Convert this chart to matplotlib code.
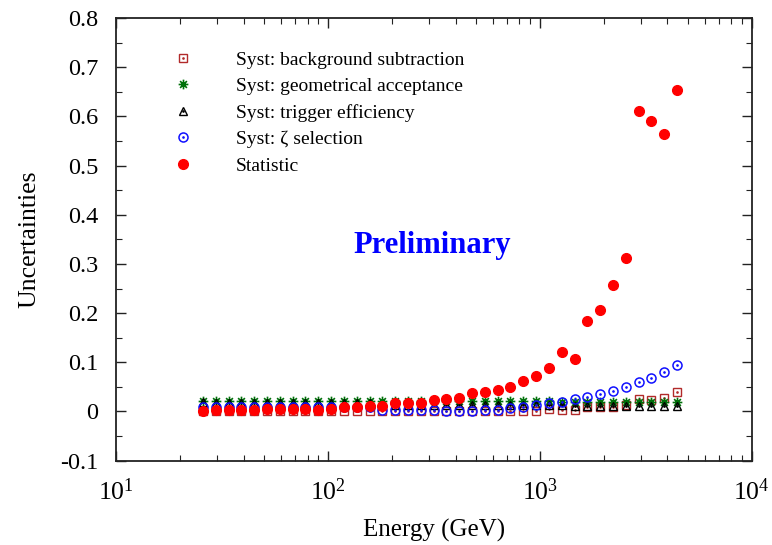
import numpy as np
import matplotlib
matplotlib.use("Agg")
import matplotlib.pyplot as plt
from matplotlib.path import Path
from matplotlib.ticker import FixedLocator, FuncFormatter, LogLocator, NullFormatter

plt.rcParams['font.family'] = ['Liberation Serif', 'DejaVu Serif']
plt.rcParams['mathtext.fontset'] = 'stix'
plt.rcParams['axes.unicode_minus'] = False

# energy bins (GeV)
energy = [25.6, 29.5, 33.9, 38.9, 44.8, 51.4, 59.2, 68.0, 78.2, 89.8,
          103.3, 118.7, 136.5, 156.9, 180.3, 207.3, 238.2, 273.8, 314.8, 361.8,
          415.9, 478.1, 549.5, 631.6, 726.1, 834.6, 959.4, 1102.8, 1267.7, 1457.2,
          1674.9, 1925.3, 2213.1, 2544.0, 2924.0, 3361.0, 3864.0, 4442.0]

syst_bkg = [0.002, 0.002, 0.002, 0.002, 0.002, 0.002, 0.002, 0.002, 0.002, 0.002,
            0.002, 0.002, 0.002, 0.002, 0.000, 0.000, 0.000, 0.000, 0.000, 0.000,
            0.000, 0.000, 0.000, 0.001, 0.002, 0.001, 0.002, 0.005, 0.004, 0.003,
            0.010, 0.010, 0.010, 0.013, 0.025, 0.024, 0.027, 0.040]

syst_geom = [0.022, 0.022, 0.022, 0.022, 0.022, 0.022, 0.022, 0.022, 0.022, 0.022,
             0.022, 0.022, 0.022, 0.022, 0.021, 0.021, 0.021, 0.021, 0.021, 0.021,
             0.021, 0.021, 0.021, 0.021, 0.021, 0.021, 0.021, 0.021, 0.020, 0.020,
             0.020, 0.020, 0.020, 0.020, 0.020, 0.020, 0.019, 0.019]

syst_trig = [0.020, 0.017, 0.017, 0.017, 0.017, 0.017, 0.017, 0.017, 0.017, 0.017,
             0.017, 0.017, 0.017, 0.017, 0.014, 0.014, 0.014, 0.014, 0.014, 0.014,
             0.014, 0.014, 0.014, 0.014, 0.014, 0.014, 0.014, 0.014, 0.013, 0.012,
             0.012, 0.012, 0.012, 0.012, 0.012, 0.012, 0.012, 0.011]

syst_zeta = [0.010, 0.010, 0.010, 0.010, 0.010, 0.010, 0.010, 0.010, 0.010, 0.010,
             0.010, 0.010, 0.010, 0.009, 0.003, 0.003, 0.003, 0.003, 0.003, 0.001,
             0.001, 0.001, 0.003, 0.003, 0.007, 0.010, 0.014, 0.017, 0.020, 0.025,
             0.030, 0.036, 0.042, 0.050, 0.059, 0.069, 0.080, 0.094]

statistic = [0.000, 0.003, 0.003, 0.003, 0.004, 0.006, 0.005, 0.005, 0.005, 0.003,
             0.005, 0.010, 0.010, 0.011, 0.011, 0.017, 0.017, 0.017, 0.023, 0.025,
             0.027, 0.038, 0.040, 0.043, 0.050, 0.063, 0.072, 0.088, 0.121, 0.107,
             0.184, 0.206, 0.257, 0.312, 0.611, 0.591, 0.564, 0.653]

# gnuplot-like asterisk: + and x on top of each other
star = Path([(-1, 0), (1, 0), (0, -1), (0, 1),
             (-0.7, -0.7), (0.7, 0.7), (-0.7, 0.7), (0.7, -0.7)],
            [Path.MOVETO, Path.LINETO] * 4)

fig = plt.figure(figsize=(7.72, 5.45), dpi=100)
ax = fig.add_axes([0.1506, 0.1547, 0.8232, 0.8123])

c_bkg = '#b22a2a'
c_geom = '#00700a'
c_blue = '#1010ff'

h1 = ax.plot(energy, syst_bkg, ls='none', marker='s', ms=5.5, mfc='none', mec=c_bkg, mew=1.0)[0]
d1 = ax.plot(energy, syst_bkg, ls='none', marker='.', ms=1.8, color=c_bkg)[0]
h2 = ax.plot(energy, syst_geom, ls='none', marker=star, ms=7.0, mfc='none', mec=c_geom, mew=1.2)[0]
h3 = ax.plot(energy, syst_trig, ls='none', marker='^', ms=5.5, mfc='none', mec='black', mew=1.0)[0]
d3 = ax.plot(energy, syst_trig, ls='none', marker='.', ms=1.8, color='black')[0]
h4 = ax.plot(energy, syst_zeta, ls='none', marker='o', ms=6.5, mfc='none', mec=c_blue, mew=1.1)[0]
d4 = ax.plot(energy, syst_zeta, ls='none', marker='.', ms=1.8, color=c_blue)[0]
h5 = ax.plot(energy, statistic, ls='none', marker='o', ms=7.0, color='red', mec='red')[0]

ax.set_xscale('log')
ax.set_xlim(10, 1e4)
ax.set_ylim(-0.1, 0.8)

ax.yaxis.set_major_locator(FixedLocator(np.arange(-0.1, 0.81, 0.1)))
ax.yaxis.set_minor_locator(FixedLocator(np.arange(-0.05, 0.8, 0.1)))
ax.yaxis.set_major_formatter(FuncFormatter(lambda v, p: f"{v:.1f}" if abs(v) > 1e-9 else "0"))
ax.xaxis.set_major_locator(LogLocator(base=10, numticks=10))
ax.xaxis.set_minor_locator(LogLocator(base=10, subs=np.arange(2, 10), numticks=10))
ax.xaxis.set_minor_formatter(NullFormatter())

ax.tick_params(which='both', direction='in', top=True, right=True, labelsize=17.5, color='#222222')
ax.tick_params(which='major', length=7, width=1.0)
ax.tick_params(which='minor', length=4, width=0.8)
ax.tick_params(axis='x', which='major', pad=13, labelsize=18.5)
ax.tick_params(axis='y', which='major', pad=13)
for sp in ax.spines.values():
    sp.set_linewidth(1.3)
    sp.set_color('#222222')

ax.set_xlabel('Energy (GeV)', fontsize=18, labelpad=10)
ax.set_ylabel('Uncertainties', fontsize=18.5, labelpad=14)

ax.text(0.497, 0.486, 'Preliminary', transform=ax.transAxes, fontsize=22,
        fontweight='bold', color='#0000ff', ha='center', va='center')

ax.legend([(h1, d1), h2, (h3, d3), (h4, d4), h5],
          ['Syst: background subtraction', 'Syst: geometrical acceptance',
           'Syst: trigger efficiency', 'Syst: ζ selection', 'Statistic'],
          loc='upper left', bbox_to_anchor=(0.075, 0.925), frameon=False,
          fontsize=14, handlelength=2.0, handletextpad=1.7, labelspacing=0.45,
          borderpad=0, borderaxespad=0, numpoints=1)

fig.savefig('out.png', dpi=100)
